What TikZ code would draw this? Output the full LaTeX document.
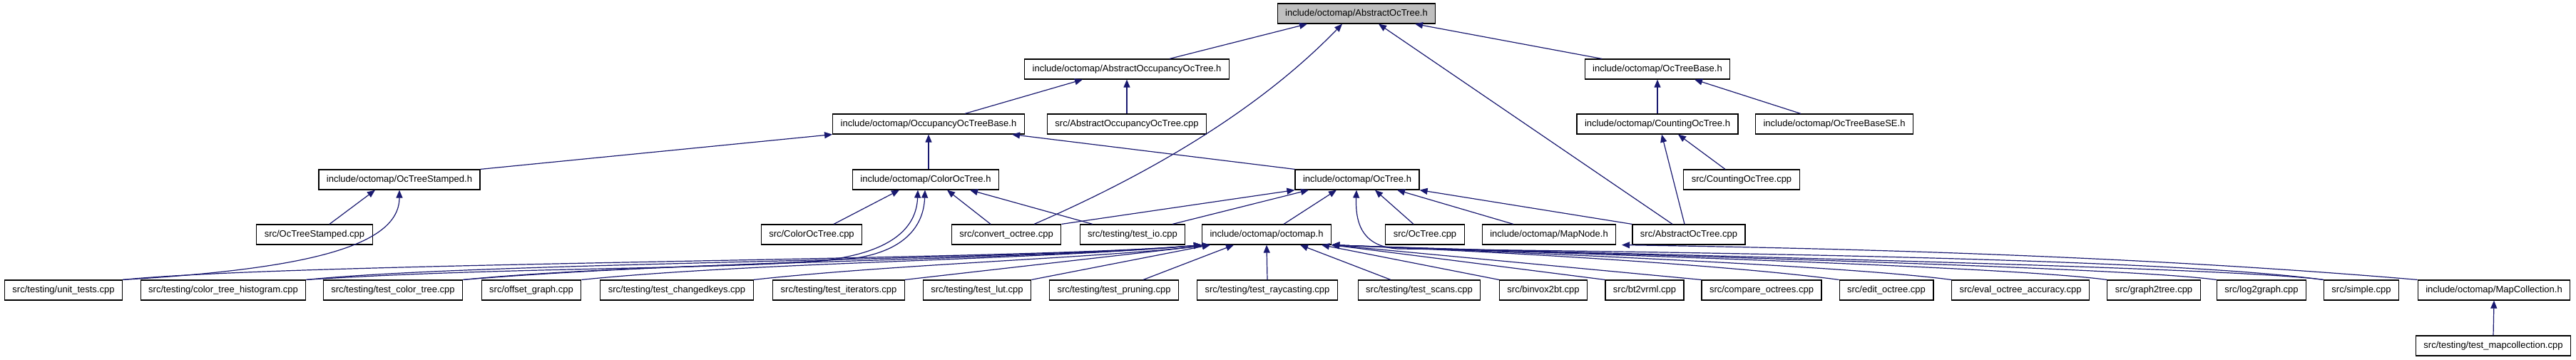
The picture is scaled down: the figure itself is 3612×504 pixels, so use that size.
\documentclass[tikz,border=0pt]{standalone}
\usepackage{fontspec}
\setmainfont{Liberation Sans}
\usetikzlibrary{arrows.meta}
\definecolor{edgeblue}{RGB}{25,25,112}
\definecolor{rootgrey}{RGB}{191,191,191}

\begin{document}
\begin{tikzpicture}[x=1pt, y=-1pt,
    file/.style={rectangle, draw=black, fill=white, line width=1.2pt,
                 minimum height=28pt, inner xsep=11pt, inner ysep=0pt,
                 font=\fontsize{13pt}{15pt}\selectfont},
    root/.style={file, fill=rootgrey},
    dep/.style={-{Triangle[length=11pt, width=9pt]}, draw=edgeblue, line width=1.2pt}
]
\useasboundingbox (0,0) rectangle (3612,504);

\node[root] (aot)      at (1902,19)  {include/octomap/AbstractOcTree.h};
\node[file] (aoot)     at (1580,97)  {include/octomap/AbstractOccupancyOcTree.h};
\node[file] (otb)      at (2324,97)  {include/octomap/OcTreeBase.h};
\node[file] (ootb)     at (1302,174) {include/octomap/OccupancyOcTreeBase.h};
\node[file] (aootcpp)  at (1580,174) {src/AbstractOccupancyOcTree.cpp};
\node[file] (cot)      at (2324,174) {include/octomap/CountingOcTree.h};
\node[file] (otbse)    at (2572,174) {include/octomap/OcTreeBaseSE.h};
\node[file] (ots)      at (560,252)  {include/octomap/OcTreeStamped.h};
\node[file] (colot)    at (1298,252) {include/octomap/ColorOcTree.h};
\node[file] (ot)       at (1903,252) {include/octomap/OcTree.h};
\node[file] (cotcpp)   at (2442,252) {src/CountingOcTree.cpp};
\node[file] (otscpp)   at (441,329)  {src/OcTreeStamped.cpp};
\node[file] (colotcpp) at (1138,329) {src/ColorOcTree.cpp};
\node[file] (convert)  at (1411,329) {src/convert\_octree.cpp};
\node[file] (testio)   at (1588,329) {src/testing/test\_io.cpp};
\node[file] (octomap)  at (1776,329) {include/octomap/octomap.h};
\node[file] (otcpp)    at (1998,329) {src/OcTree.cpp};
\node[file] (mapnode)  at (2172,329) {include/octomap/MapNode.h};
\node[file] (aotcpp)   at (2368,329) {src/AbstractOcTree.cpp};
\node[file] (unittests)  at (89,407)   {src/testing/unit\_tests.cpp};
\node[file] (histo)      at (313,407)  {src/testing/color\_tree\_histogram.cpp};
\node[file] (testcolor)  at (551,407)  {src/testing/test\_color\_tree.cpp};
\node[file] (offset)     at (745,407)  {src/offset\_graph.cpp};
\node[file] (changed)    at (949,407)  {src/testing/test\_changedkeys.cpp};
\node[file] (iter)       at (1176,407) {src/testing/test\_iterators.cpp};
\node[file] (lut)        at (1370,407) {src/testing/test\_lut.cpp};
\node[file] (pruning)    at (1562,407) {src/testing/test\_pruning.cpp};
\node[file] (raycast)    at (1777,407) {src/testing/test\_raycasting.cpp};
\node[file] (scans)      at (1990,407) {src/testing/test\_scans.cpp};
\node[file] (binvox)     at (2164,407) {src/binvox2bt.cpp};
\node[file] (bt2vrml)    at (2306,407) {src/bt2vrml.cpp};
\node[file] (compare)    at (2470,407) {src/compare\_octrees.cpp};
\node[file] (edit)       at (2645,407) {src/edit\_octree.cpp};
\node[file] (eval)       at (2833,407) {src/eval\_octree\_accuracy.cpp};
\node[file] (graph2tree) at (3020,407) {src/graph2tree.cpp};
\node[file] (log2graph)  at (3171,407) {src/log2graph.cpp};
\node[file] (simple)     at (3311,407) {src/simple.cpp};
\node[file] (mapcoll)    at (3497,407) {include/octomap/MapCollection.h};
\node[file] (testmapcoll) at (3496,485) {src/testing/test\_mapcollection.cpp};

\draw[dep] ([xshift=60pt]aoot.north) -- ([xshift=-69pt]aot.south);
\draw[dep] ([xshift=39pt]convert.north) .. controls +(150,-65) and +(-122,126) .. ([xshift=-20pt]aot.south);
\draw[dep] ([xshift=-23pt]aotcpp.north) -- ([xshift=31pt]aot.south);
\draw[dep] ([xshift=-78pt]otb.north) -- ([xshift=82pt]aot.south);
\draw[dep] ([xshift=51pt]ootb.north) -- ([xshift=-62pt]aoot.south);
\draw[dep] (aootcpp.north) -- (aoot.south);
\draw[dep] (cot.north) -- (otb.south);
\draw[dep] ([xshift=-47pt]otbse.north) -- ([xshift=52pt]otb.south);
\draw[dep] (ots.north east) -- (ootb.south west);
\draw[dep] ([xshift=4pt]colot.north) -- (ootb.south);
\draw[dep] (ot.north west) -- ([xshift=117pt]ootb.south);
\draw[dep] ([xshift=-23pt]cotcpp.north) -- ([xshift=29pt]cot.south);
\draw[dep] ([xshift=-6pt]aotcpp.north) -- ([xshift=6pt]cot.south);
\draw[dep] ([xshift=21pt]otscpp.north) -- ([xshift=-34pt]ots.south);
\draw[dep] (unittests.north east) .. controls +(257,-15) and +(0,79) .. (ots.south);
\draw[dep] ([xshift=31pt]colotcpp.north) -- ([xshift=-37pt]colot.south);
\draw[dep] (histo.north east) .. controls (700,375) and (1000,378) .. (1150,366)
    .. controls (1250,355) and (1285,320) .. ([xshift=-11pt]colot.south);
\draw[dep] (testcolor.north east) .. controls (900,372) and (1100,372) .. (1200,362)
    .. controls (1265,352) and (1295,320) .. ([xshift=-1pt]colot.south);
\draw[dep] ([xshift=-22pt]convert.north) -- ([xshift=30pt]colot.south);
\draw[dep] ([xshift=-56pt]testio.north) -- ([xshift=62pt]colot.south);
\draw[dep] (convert.north east) -- (ot.south west);
\draw[dep] ([xshift=56pt]testio.north) -- ([xshift=-68pt]ot.south);
\draw[dep] ([xshift=24pt]octomap.north) -- ([xshift=-29pt]ot.south);
\draw[dep] (simple.north west) .. controls (3050,365) and (2500,355) .. (1960,349)
    .. controls (1915,346) and (1900,320) .. ([xshift=-1pt]ot.south);
\draw[dep] ([xshift=-16pt]otcpp.north) -- ([xshift=25pt]ot.south);
\draw[dep] ([xshift=-50pt]mapnode.north) -- ([xshift=56pt]ot.south);
\draw[dep] (aotcpp.north west) -- (ot.south east);
\draw[dep] (mapcoll.north west) .. controls +(-389,-33) and +(326,5) .. ([xshift=102pt]mapnode.south);
\draw[dep] (unittests.north east) .. controls +(250,-25) and +(-250,22) .. (octomap.south west);
\draw[dep] (histo.north east) .. controls +(250,-25) and +(-250,22) .. (octomap.south west);
\draw[dep] (testcolor.north east) .. controls +(250,-25) and +(-250,22) .. (octomap.south west);
\draw[dep] (offset.north east) .. controls +(250,-25) and +(-250,22) .. (octomap.south west);
\draw[dep] (changed.north east) .. controls +(200,-22) and +(-150,18) .. ([xshift=12pt]octomap.south west);
\draw[dep] (iter.north east) -- ([xshift=12pt]octomap.south west);
\draw[dep] (lut.north east) -- ([xshift=12pt]octomap.south west);
\draw[dep] ([xshift=41pt]pruning.north) -- ([xshift=-46pt]octomap.south);
\draw[dep] (raycast.north) -- (octomap.south);
\draw[dep] ([xshift=-40pt]scans.north) -- ([xshift=47pt]octomap.south);
\draw[dep] (binvox.north west) -- ([xshift=77pt]octomap.south);
\draw[dep] (bt2vrml.north west) -- (octomap.south east);
\draw[dep] (compare.north west) -- (octomap.south east);
\draw[dep] (edit.north west) .. controls +(-150,-20) and +(250,10) .. (octomap.south east);
\draw[dep] (eval.north west) .. controls +(-150,-20) and +(250,10) .. (octomap.south east);
\draw[dep] (graph2tree.north west) .. controls +(-150,-20) and +(250,10) .. (octomap.south east);
\draw[dep] (log2graph.north west) .. controls +(-150,-20) and +(250,10) .. (octomap.south east);
\draw[dep] (simple.north west) .. controls +(-150,-20) and +(250,10) .. (octomap.south east);
\draw[dep] (testmapcoll.north) -- (mapcoll.south);
\end{tikzpicture}
\end{document}
